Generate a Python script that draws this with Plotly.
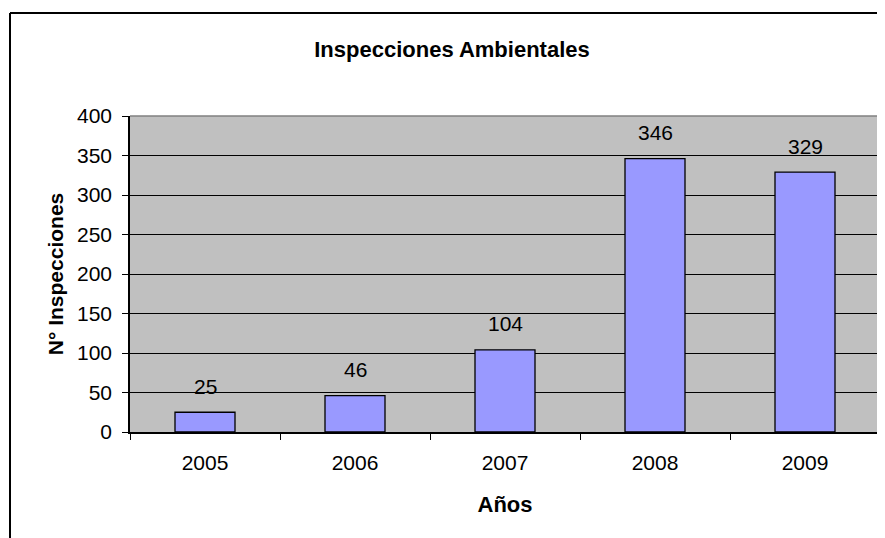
import plotly.graph_objects as go

years = ["2005", "2006", "2007", "2008", "2009"]
inspecciones = [25, 46, 104, 346, 329]
y_ticks = [0, 50, 100, 150, 200, 250, 300, 350, 400]

FONT = "Liberation Sans, Arial, sans-serif"
xpos = list(range(len(years)))
boundaries = [i - 0.5 for i in range(len(years) + 1)]

fig = go.Figure()
fig.add_trace(go.Bar(
    x=xpos, y=inspecciones,
    marker=dict(color="#9999FF", line=dict(color="black", width=1.3)),
    width=0.4,
    hovertext=years, hoverinfo="text+y",
))

for xi, v in zip(xpos, inspecciones):
    fig.add_annotation(x=xi, y=v, text=str(v), showarrow=False,
                       yanchor="middle", yshift=26,
                       font=dict(family=FONT, size=21, color="black"))

# plot-area border (top/right grey)
fig.add_shape(type="line", xref="paper", yref="paper", x0=0, x1=1, y0=1, y1=1,
              line=dict(color="#808080", width=1.5))
fig.add_shape(type="line", xref="paper", yref="paper", x0=1, x1=1, y0=0, y1=1,
              line=dict(color="#808080", width=1.5))
# outer chart frame (left and top)
fig.add_shape(type="line", xref="paper", yref="paper",
              x0=-0.16, x1=-0.16, y0=-0.4, y1=1.326,
              line=dict(color="black", width=2))
fig.add_shape(type="line", xref="paper", yref="paper",
              x0=-0.16, x1=1.1, y0=1.326, y1=1.326,
              line=dict(color="black", width=2))

fig.update_layout(
    width=885, height=538,
    margin=dict(l=122, r=13, t=108, b=114),
    paper_bgcolor="white",
    plot_bgcolor="#C0C0C0",
    showlegend=False,
    font=dict(family=FONT, size=21, color="black"),
    title=dict(text="<b>Inspecciones Ambientales</b>", x=444/885, xanchor="center",
               y=1 - 41/538, yanchor="middle",
               font=dict(family=FONT, size=22, color="black")),
    xaxis=dict(
        range=[-0.5, len(years) - 0.5],
        tickvals=xpos, ticktext=years,
        ticks="", ticklen=0,
        ticklabelstandoff=11,
        minor=dict(tickvals=boundaries, ticks="outside", ticklen=6, tickwidth=1.3,
                   tickcolor="black", showgrid=False),
        showline=True, linecolor="black", linewidth=1.5,
        showgrid=False, zeroline=False,
        tickfont=dict(family=FONT, size=21),
        title=dict(text="<b>Años</b>", font=dict(family=FONT, size=22), standoff=24),
    ),
    yaxis=dict(
        range=[0, 400],
        tickvals=y_ticks,
        ticks="outside", ticklen=6, tickwidth=1.3, tickcolor="black",
        ticklabelstandoff=6,
        showline=True, linecolor="black", linewidth=1.5,
        showgrid=True, gridcolor="black", gridwidth=1.2,
        zeroline=False,
        tickfont=dict(family=FONT, size=21),
        title=dict(text="<b>N° Inspecciones</b>", font=dict(family=FONT, size=21), standoff=8),
    ),
)

fig.write_html("out.html")
